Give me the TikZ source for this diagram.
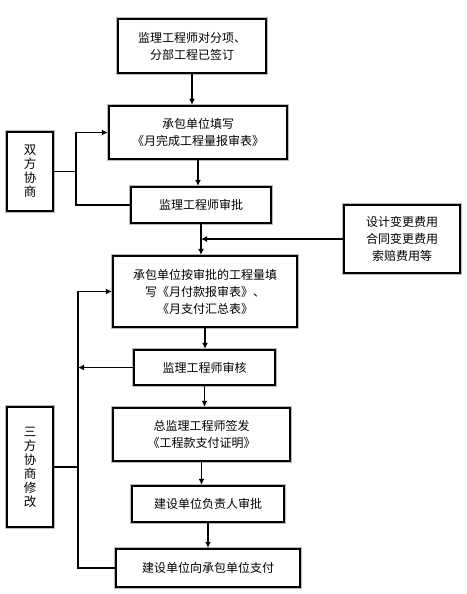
\documentclass[tikz,border=0pt]{standalone}
\usepackage{fontspec}
\newfontfamily\cjk{Noto Sans CJK SC}
\usetikzlibrary{calc,arrows.meta}

\tikzset{
  box/.style = {draw, line width=2.4pt, preaction={draw=gray!55, line width=3.8pt},
                fill=white, align=center, inner sep=2pt, font=\cjk\fontsize{12}{17}\selectfont},
  vbox/.style = {box, text width=13pt, font=\cjk\fontsize{12.5}{14}\selectfont},
  arr/.style = {line width=1.4pt, -{Latex[length=6pt,width=6pt]}},
  ln/.style = {line width=1.4pt}
}

\begin{document}
\begin{tikzpicture}[x=1pt, y=-1pt]
    \useasboundingbox (0,0) rectangle (466,594);
    % main chain
    \node[box, minimum width=148pt, minimum height=54pt](b1)at(192,46){监理工程师对分项、\\分部工程已签订};
    \node[box, minimum width=178pt, minimum height=53pt](b2)at(198,132.5){承包单位填写\\《月完成工程量报审表》};
    \node[box, minimum width=140pt, minimum height=36pt](b3)at(201,205){监理工程师审批};
    \node[box, minimum width=184pt, minimum height=71pt](b4)at(205,291.5){承包单位按审批的工程量填\\写《月付款报审表》、\\《月支付汇总表》};
    \node[box, minimum width=141pt, minimum height=35pt](b5)at(204.5,367.5){监理工程师审核};
    \node[box, minimum width=177pt, minimum height=53pt](b6)at(201.5,434.5){总监理工程师签发\\《工程款支付证明》};
    \node[box, minimum width=152pt, minimum height=36pt](b7)at(208,504){建设单位负责人审批};
    \node[box, minimum width=184pt, minimum height=38pt](b8)at(208,568){建设单位向承包单位支付};
    % side boxes
    \node[vbox, minimum width=46pt, minimum height=79pt](talk2)at(30,171.5){双\\方\\协\\商};
    \node[vbox, minimum width=46pt, minimum height=120pt](talk3)at(30,467){三\\方\\协\\商\\修\\改};
    \node[box, minimum width=116pt, minimum height=68pt](cost)at(402,239){设计变更费用\\合同变更费用\\索赔费用等};
    % down arrows
    \path[draw, arr](b1.south)to(b1.south |- b2.north);
    \path[draw, arr](b2.south)to(b2.south |- b3.north);
    \path[draw, arr](b3.south)to(b3.south |- b4.north);
    \path[draw, arr](b4.south)to(b4.south |- b5.north);
    \path[draw, arr](b5.south)to(b5.south |- b6.north);
    \path[draw, arr](b6.south)to(b6.south |- b7.north);
    \path[draw, arr](b7.south)to(b7.south |- b8.north);
    % left loops
    \coordinate(k1)at(76,0);
    \coordinate(k2)at(78,0);
    \path[draw, arr](b3.west)-|(k1 |- b2.west)to(b2.west);
    \path[draw, ln](talk2.east)to(talk2.east -| k1);
    \path[draw, arr](b8.west)-|(k2 |- b4.west)to(b4.west);
    \path[draw, arr](b5.west)to(b5.west -| k2);
    \path[draw, ln](talk3.east)to(talk3.east -| k2);
    % costs
    \path[draw, arr](cost.west)to(cost.west -| b3.south);
\end{tikzpicture}
\end{document}
